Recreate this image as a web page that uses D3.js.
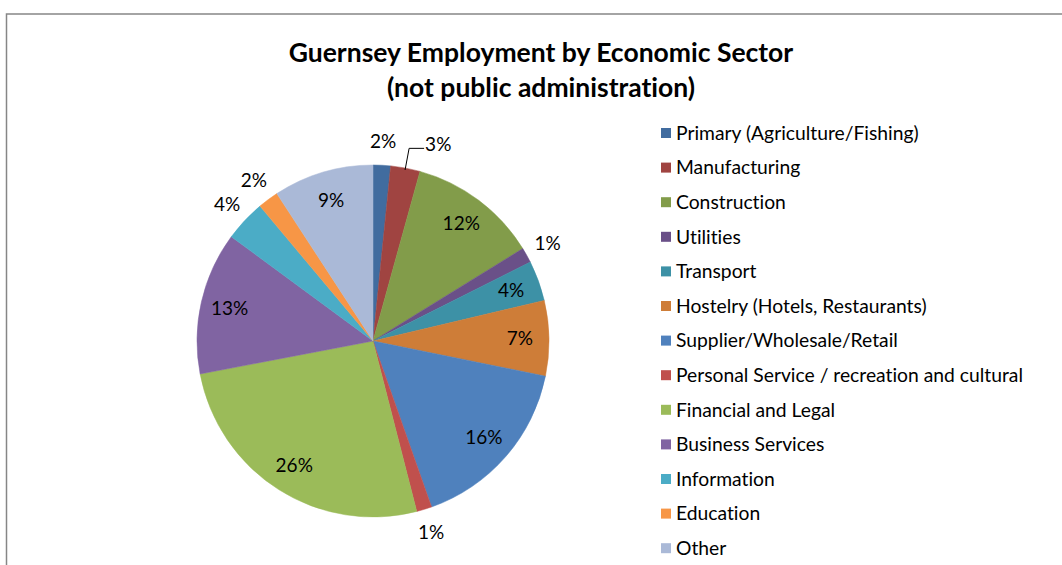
<!DOCTYPE html>
<html>
<head>
<meta charset="utf-8">
<script src="https://cdn.jsdelivr.net/npm/d3@7"></script>
<style>
  html, body { margin: 0; padding: 0; background: #fff; }
  svg { display: block; }
  text { font-family: Lato, "Open Sans", sans-serif; fill: #000; font-variant-ligatures: none; }
</style>
</head>
<body>
<svg id="chart" width="1062" height="565"></svg>
<script>
// Employment share by economic sector (percent of workforce, excluding public administration)
const sectors = [
  "Primary (Agriculture/Fishing)",
  "Manufacturing",
  "Construction",
  "Utilities",
  "Transport",
  "Hostelry (Hotels, Restaurants)",
  "Supplier/Wholesale/Retail",
  "Personal Service / recreation and cultural",
  "Financial and Legal",
  "Business Services",
  "Information",
  "Education",
  "Other"
];
const shares = [1.6, 2.7, 11.9, 1.4, 3.7, 6.9, 16.4, 1.4, 26.0, 13.1, 3.8, 1.9, 9.2];
const sliceColors = [
  "#416c9f", "#a04441", "#829c4a", "#6a5088", "#3d91a6", "#ce7d38",
  "#4f81bd", "#c0504d", "#9bbb59", "#8064a2", "#4bacc6", "#f79646", "#aab9d7"
];
const titleLines = ["Guernsey Employment by Economic Sector", "(not public administration)"];

// Small slices whose labels sit outside the pie; Manufacturing gets a leader line
const outsideLabels = new Set(["Primary (Agriculture/Fishing)", "Utilities",
  "Personal Service / recreation and cultural", "Information", "Education"]);
const leaderLabels = new Set(["Manufacturing"]);

const svg = d3.select("#chart");

// Chart frame
svg.append("rect")
  .attr("x", 6.5).attr("y", 14)
  .attr("width", 1100).attr("height", 600)
  .attr("fill", "#fff")
  .attr("stroke", "#868686")
  .attr("stroke-width", 1.5);

// Title
svg.append("g").selectAll("text")
  .data(titleLines)
  .join("text")
  .attr("x", 541)
  .attr("y", (d, i) => 62 + i * 35)
  .attr("text-anchor", "middle")
  .attr("font-size", 26.5)
  .attr("font-weight", 700)
  .text(d => d);

// Pie
const cx = 373, cy = 341, R = 176;
const total = d3.sum(shares);
const data = sectors.map((name, i) => ({ name, value: shares[i], color: sliceColors[i] }));

const pie = d3.pie().value(d => d.value).sort(null);
const arcs = pie(data);
const arc = d3.arc().innerRadius(0).outerRadius(R);

const g = svg.append("g").attr("transform", `translate(${cx},${cy})`);
g.selectAll("path")
  .data(arcs)
  .join("path")
  .attr("d", arc)
  .attr("fill", d => d.data.color)
  .attr("stroke", d => d.data.color)
  .attr("stroke-width", 0.5);

const pct = d => Math.round(d.data.value / total * 100) + "%";
const mid = d => (d.startAngle + d.endAngle) / 2;
const polar = (a, r) => [Math.sin(a) * r, -Math.cos(a) * r];
const labelSize = 19;

// Data labels
arcs.forEach(d => {
  const a = mid(d);
  if (leaderLabels.has(d.data.name)) {
    const p0 = polar(a, R - 2);
    const p1 = polar(a, 196);
    const p2 = [p1[0] + 15, p1[1]];
    g.append("polyline")
      .attr("points", [p0, p1, p2].map(p => p.join(",")).join(" "))
      .attr("fill", "none")
      .attr("stroke", "#000")
      .attr("stroke-width", 1);
    g.append("text")
      .attr("x", p2[0] + 1)
      .attr("y", p2[1] - 4)
      .attr("dy", "0.35em")
      .attr("font-size", labelSize)
      .text(pct(d));
  } else {
    const r = outsideLabels.has(d.data.name) ? 200 : 147;
    const p = polar(a, r);
    g.append("text")
      .attr("x", p[0])
      .attr("y", p[1])
      .attr("dy", "0.35em")
      .attr("text-anchor", "middle")
      .attr("font-size", labelSize)
      .text(pct(d));
  }
});

// Legend
const legend = svg.append("g").attr("transform", "translate(661,133)");
const rows = legend.selectAll("g")
  .data(data)
  .join("g")
  .attr("transform", (d, i) => `translate(0,${i * 34.6})`);
rows.append("rect")
  .attr("x", 0).attr("y", -5)
  .attr("width", 10).attr("height", 10)
  .attr("fill", d => d.color);
rows.append("text")
  .attr("x", 15)
  .attr("y", 0)
  .attr("dy", "0.35em")
  .attr("font-size", 19.3)
  .text(d => d.name);
</script>
</body>
</html>
